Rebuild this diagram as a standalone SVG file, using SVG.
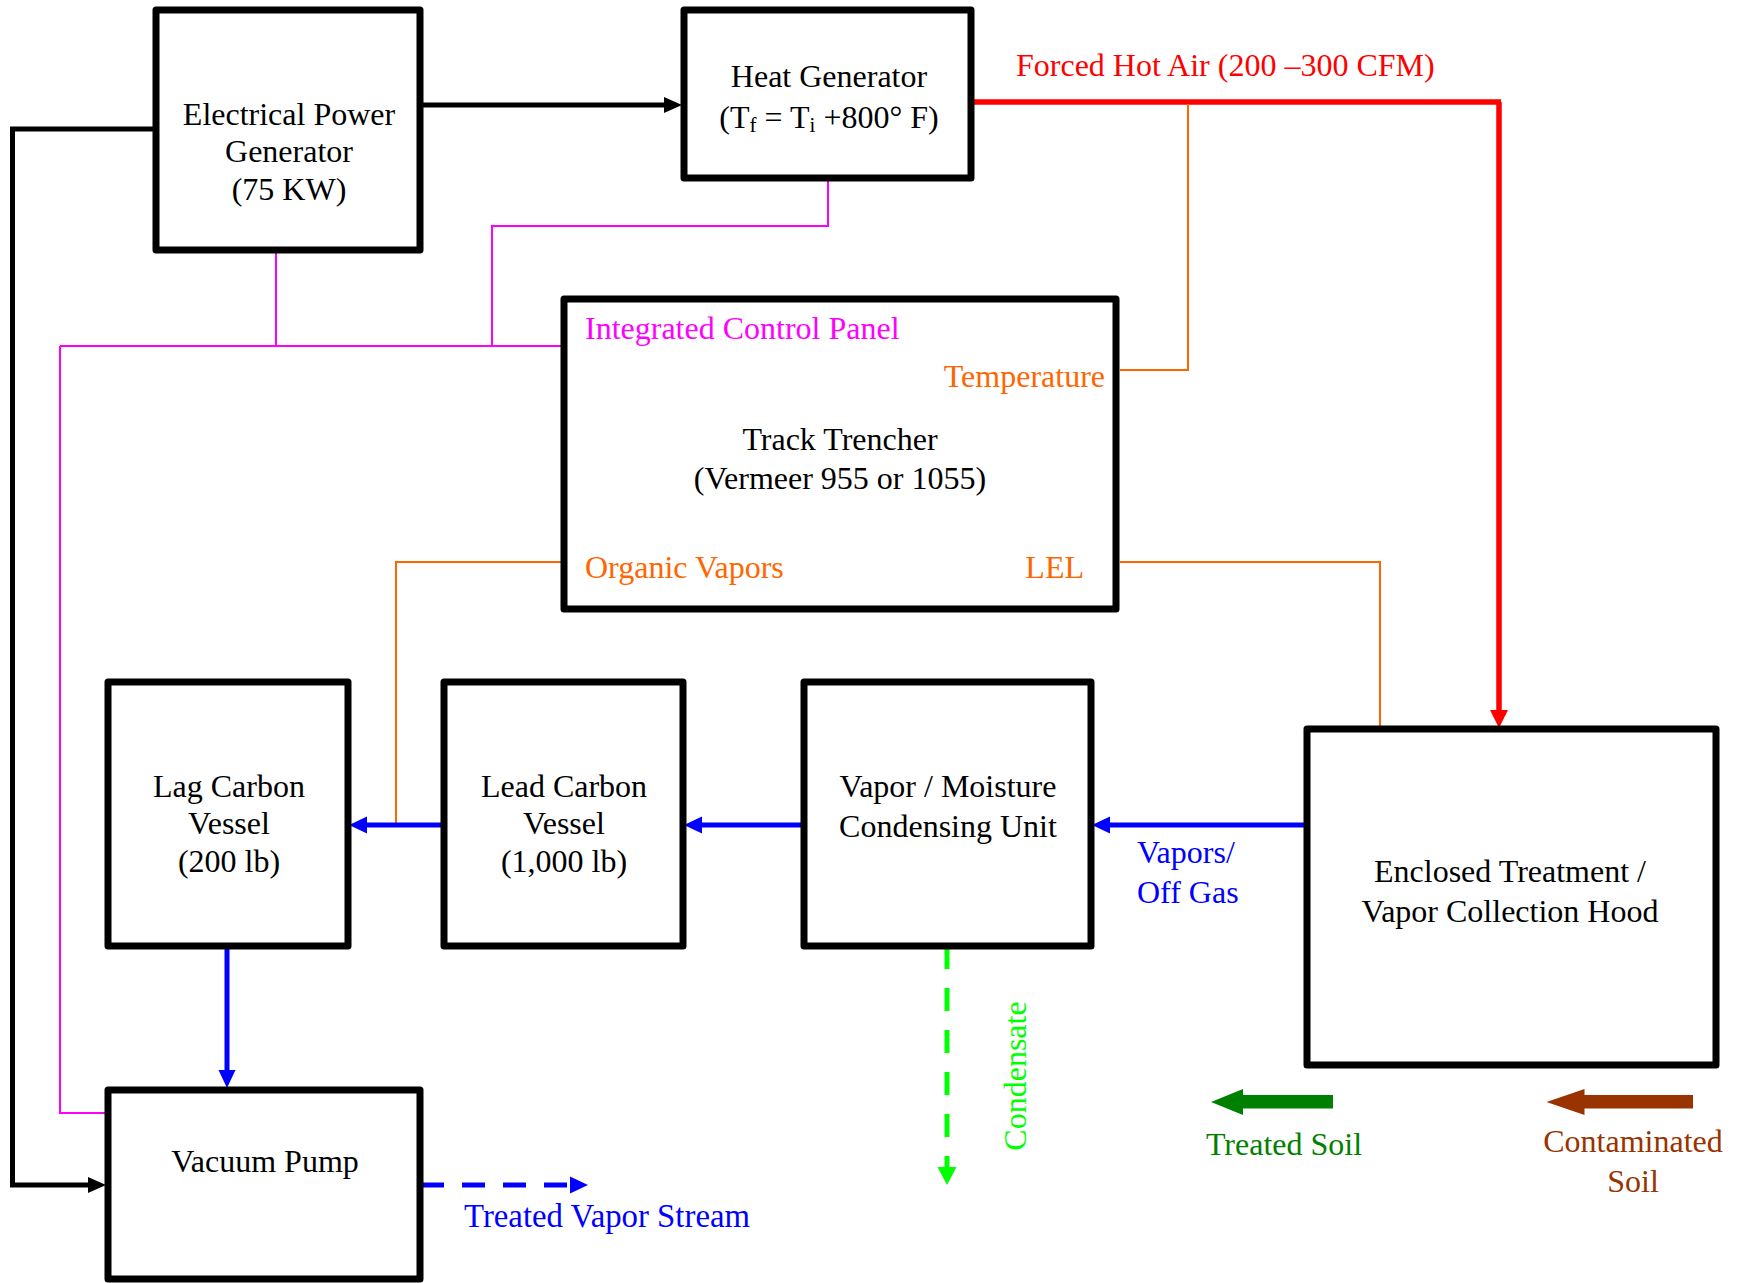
<svg xmlns="http://www.w3.org/2000/svg" width="1740" height="1283" viewBox="0 0 1740 1283">
<style>
  .box { fill: #fff; stroke: #000; stroke-width: 7; stroke-linejoin: round; }
  text { font-family: "Liberation Serif", "Times New Roman", serif; font-size: 32px; }
  .c { text-anchor: middle; }
  .k { fill: #000; }
  .mag { fill: #FF00FF; }
  .org { fill: #FF6600; }
  .red { fill: #FF0000; }
  .blu { fill: #0000FF; }
  .lgr { fill: #00FF00; }
  .dgr { fill: #008000; }
  .brn { fill: #993300; }
  .big { font-size: 32.8px; }
  .ln { fill: none; stroke-linejoin: miter; }
  .blk5 { stroke: #000; stroke-width: 5; }
  .red5 { stroke: #FF0000; stroke-width: 5.5; }
  .blu5 { stroke: #0000FF; stroke-width: 5; }
  .mag2 { stroke: #FF00FF; stroke-width: 2; }
  .org2 { stroke: #FF6600; stroke-width: 2; }
  .grn5 { stroke: #00FF00; stroke-width: 5; }
  .dash { stroke-dasharray: 23 18; }
</style>
<defs>
  <marker id="ahK" markerUnits="userSpaceOnUse" markerWidth="18" markerHeight="18" viewBox="0 0 18 18" refX="12" refY="9" orient="auto">
    <path d="M0,1 L18,9 L0,17 z" fill="#000"/>
  </marker>
  <marker id="ahB" markerUnits="userSpaceOnUse" markerWidth="18" markerHeight="18" viewBox="0 0 18 18" refX="12" refY="9" orient="auto">
    <path d="M0,0.5 L18,9 L0,17.5 z" fill="#0000FF"/>
  </marker>
  <marker id="ahR" markerUnits="userSpaceOnUse" markerWidth="18" markerHeight="18" viewBox="0 0 18 18" refX="12" refY="9" orient="auto">
    <path d="M0,0 L18,9 L0,18 z" fill="#FF0000"/>
  </marker>
  <marker id="ahG" markerUnits="userSpaceOnUse" markerWidth="18" markerHeight="20" viewBox="0 0 18 20" refX="12" refY="10" orient="auto">
    <path d="M0,0.5 L18,10 L0,19.5 z" fill="#00FF00"/>
  </marker>
</defs>
<rect width="1740" height="1283" fill="#fff"/>

<g id="connectors">
  <path class="ln blk5" d="M423,105 H676" marker-end="url(#ahK)"/>
  <path class="ln blk5" d="M153,129 H12.5 V1185 H100" marker-end="url(#ahK)"/>
  <path class="ln red5" d="M970,102 H1501 M1499,102 V722" marker-end="url(#ahR)"/>
  <path class="ln mag2" d="M276,250 V346"/>
  <path class="ln mag2" d="M60,346 H561"/>
  <path class="ln mag2" d="M492,346 V226 H828 V178"/>
  <path class="ln mag2" d="M60,346 V1113 H105"/>
  <path class="ln org2" d="M1120,370 H1188 V104"/>
  <path class="ln org2" d="M561,562 H396 V823"/>
  <path class="ln org2" d="M1120,562 H1380 V726"/>
  <path class="ln blu5" d="M1307,825 H1098" marker-end="url(#ahB)"/>
  <path class="ln blu5" d="M804,825 H690" marker-end="url(#ahB)"/>
  <path class="ln blu5" d="M444,825 H355" marker-end="url(#ahB)"/>
  <path class="ln blu5" d="M227,949 V1082" marker-end="url(#ahB)"/>
  <path class="ln blu5 dash" d="M421,1185 H582" marker-end="url(#ahB)"/>
  <path class="ln grn5" d="M947,946 V1179" stroke-dasharray="23 19" marker-end="url(#ahG)"/>
</g>

<g id="epg">
  <rect class="box" x="156" y="10" width="264" height="240"/>
  <text class="c k" x="289" y="125">Electrical Power</text>
  <text class="c k" x="289" y="162">Generator</text>
  <text class="c k" x="289" y="200">(75 KW)</text>
</g>

<g id="heat-generator">
  <rect class="box" x="684" y="10" width="287" height="168"/>
  <text class="c k" x="829" y="87">Heat Generator</text>
  <text class="c k" x="829" y="128">(T<tspan font-size="21" dy="4">f</tspan><tspan dy="-4"> = T</tspan><tspan font-size="21" dy="4">i</tspan><tspan dy="-4"> +800° F)</tspan></text>
</g>

<g id="forced-air-label">
  <text class="red" x="1016" y="76">Forced Hot Air (200 –300 CFM)</text>
</g>

<g id="trencher">
  <rect class="box" x="564" y="299" width="552" height="310"/>
  <text class="mag" x="585" y="339">Integrated Control Panel</text>
  <text class="org" x="1105" y="387" text-anchor="end">Temperature</text>
  <text class="c k" x="840" y="450">Track Trencher</text>
  <text class="c k" x="840" y="489">(Vermeer 955 or 1055)</text>
  <text class="org" x="585" y="578">Organic Vapors</text>
  <text class="org" x="1084" y="578" text-anchor="end">LEL</text>
</g>

<g id="lag-carbon">
  <rect class="box" x="108" y="682" width="240" height="264"/>
  <text class="c k" x="229" y="797">Lag Carbon</text>
  <text class="c k" x="229" y="834">Vessel</text>
  <text class="c k" x="229" y="872">(200 lb)</text>
</g>

<g id="lead-carbon">
  <rect class="box" x="444" y="682" width="239" height="264"/>
  <text class="c k" x="564" y="797">Lead Carbon</text>
  <text class="c k" x="564" y="834">Vessel</text>
  <text class="c k" x="564" y="872">(1,000 lb)</text>
</g>

<g id="condensing-unit">
  <rect class="box" x="804" y="682" width="287" height="264"/>
  <text class="c k" x="948" y="797">Vapor / Moisture</text>
  <text class="c k" x="948" y="837">Condensing Unit</text>
</g>

<g id="enclosed-hood">
  <rect class="box" x="1307" y="729" width="409" height="336"/>
  <text class="c k" x="1510" y="882">Enclosed Treatment /</text>
  <text class="c k" x="1510" y="922">Vapor Collection Hood</text>
</g>

<g id="vacuum-pump">
  <rect class="box" x="108" y="1090" width="312" height="189"/>
  <text class="c k" x="265" y="1172">Vacuum Pump</text>
</g>

<g id="labels">
  <text class="blu" x="1137" y="863">Vapors/</text>
  <text class="blu" x="1137" y="903">Off Gas</text>
  <text class="blu big" x="464" y="1227">Treated Vapor Stream</text>
  <text class="c lgr" transform="translate(1026,1076) rotate(-90)">Condensate</text>
</g>

<g id="treated-soil">
  <polygon points="1211,1102 1243,1089 1243,1095 1333,1095 1333,1108.5 1243,1108.5 1243,1115" fill="#008000"/>
  <text class="c dgr" x="1284" y="1155">Treated Soil</text>
</g>

<g id="contaminated-soil">
  <polygon points="1546.5,1102 1584.5,1089 1584.5,1095 1693,1095 1693,1108.5 1584.5,1108.5 1584.5,1115" fill="#993300"/>
  <text class="c brn" x="1633" y="1152">Contaminated</text>
  <text class="c brn" x="1633" y="1192">Soil</text>
</g>
</svg>
